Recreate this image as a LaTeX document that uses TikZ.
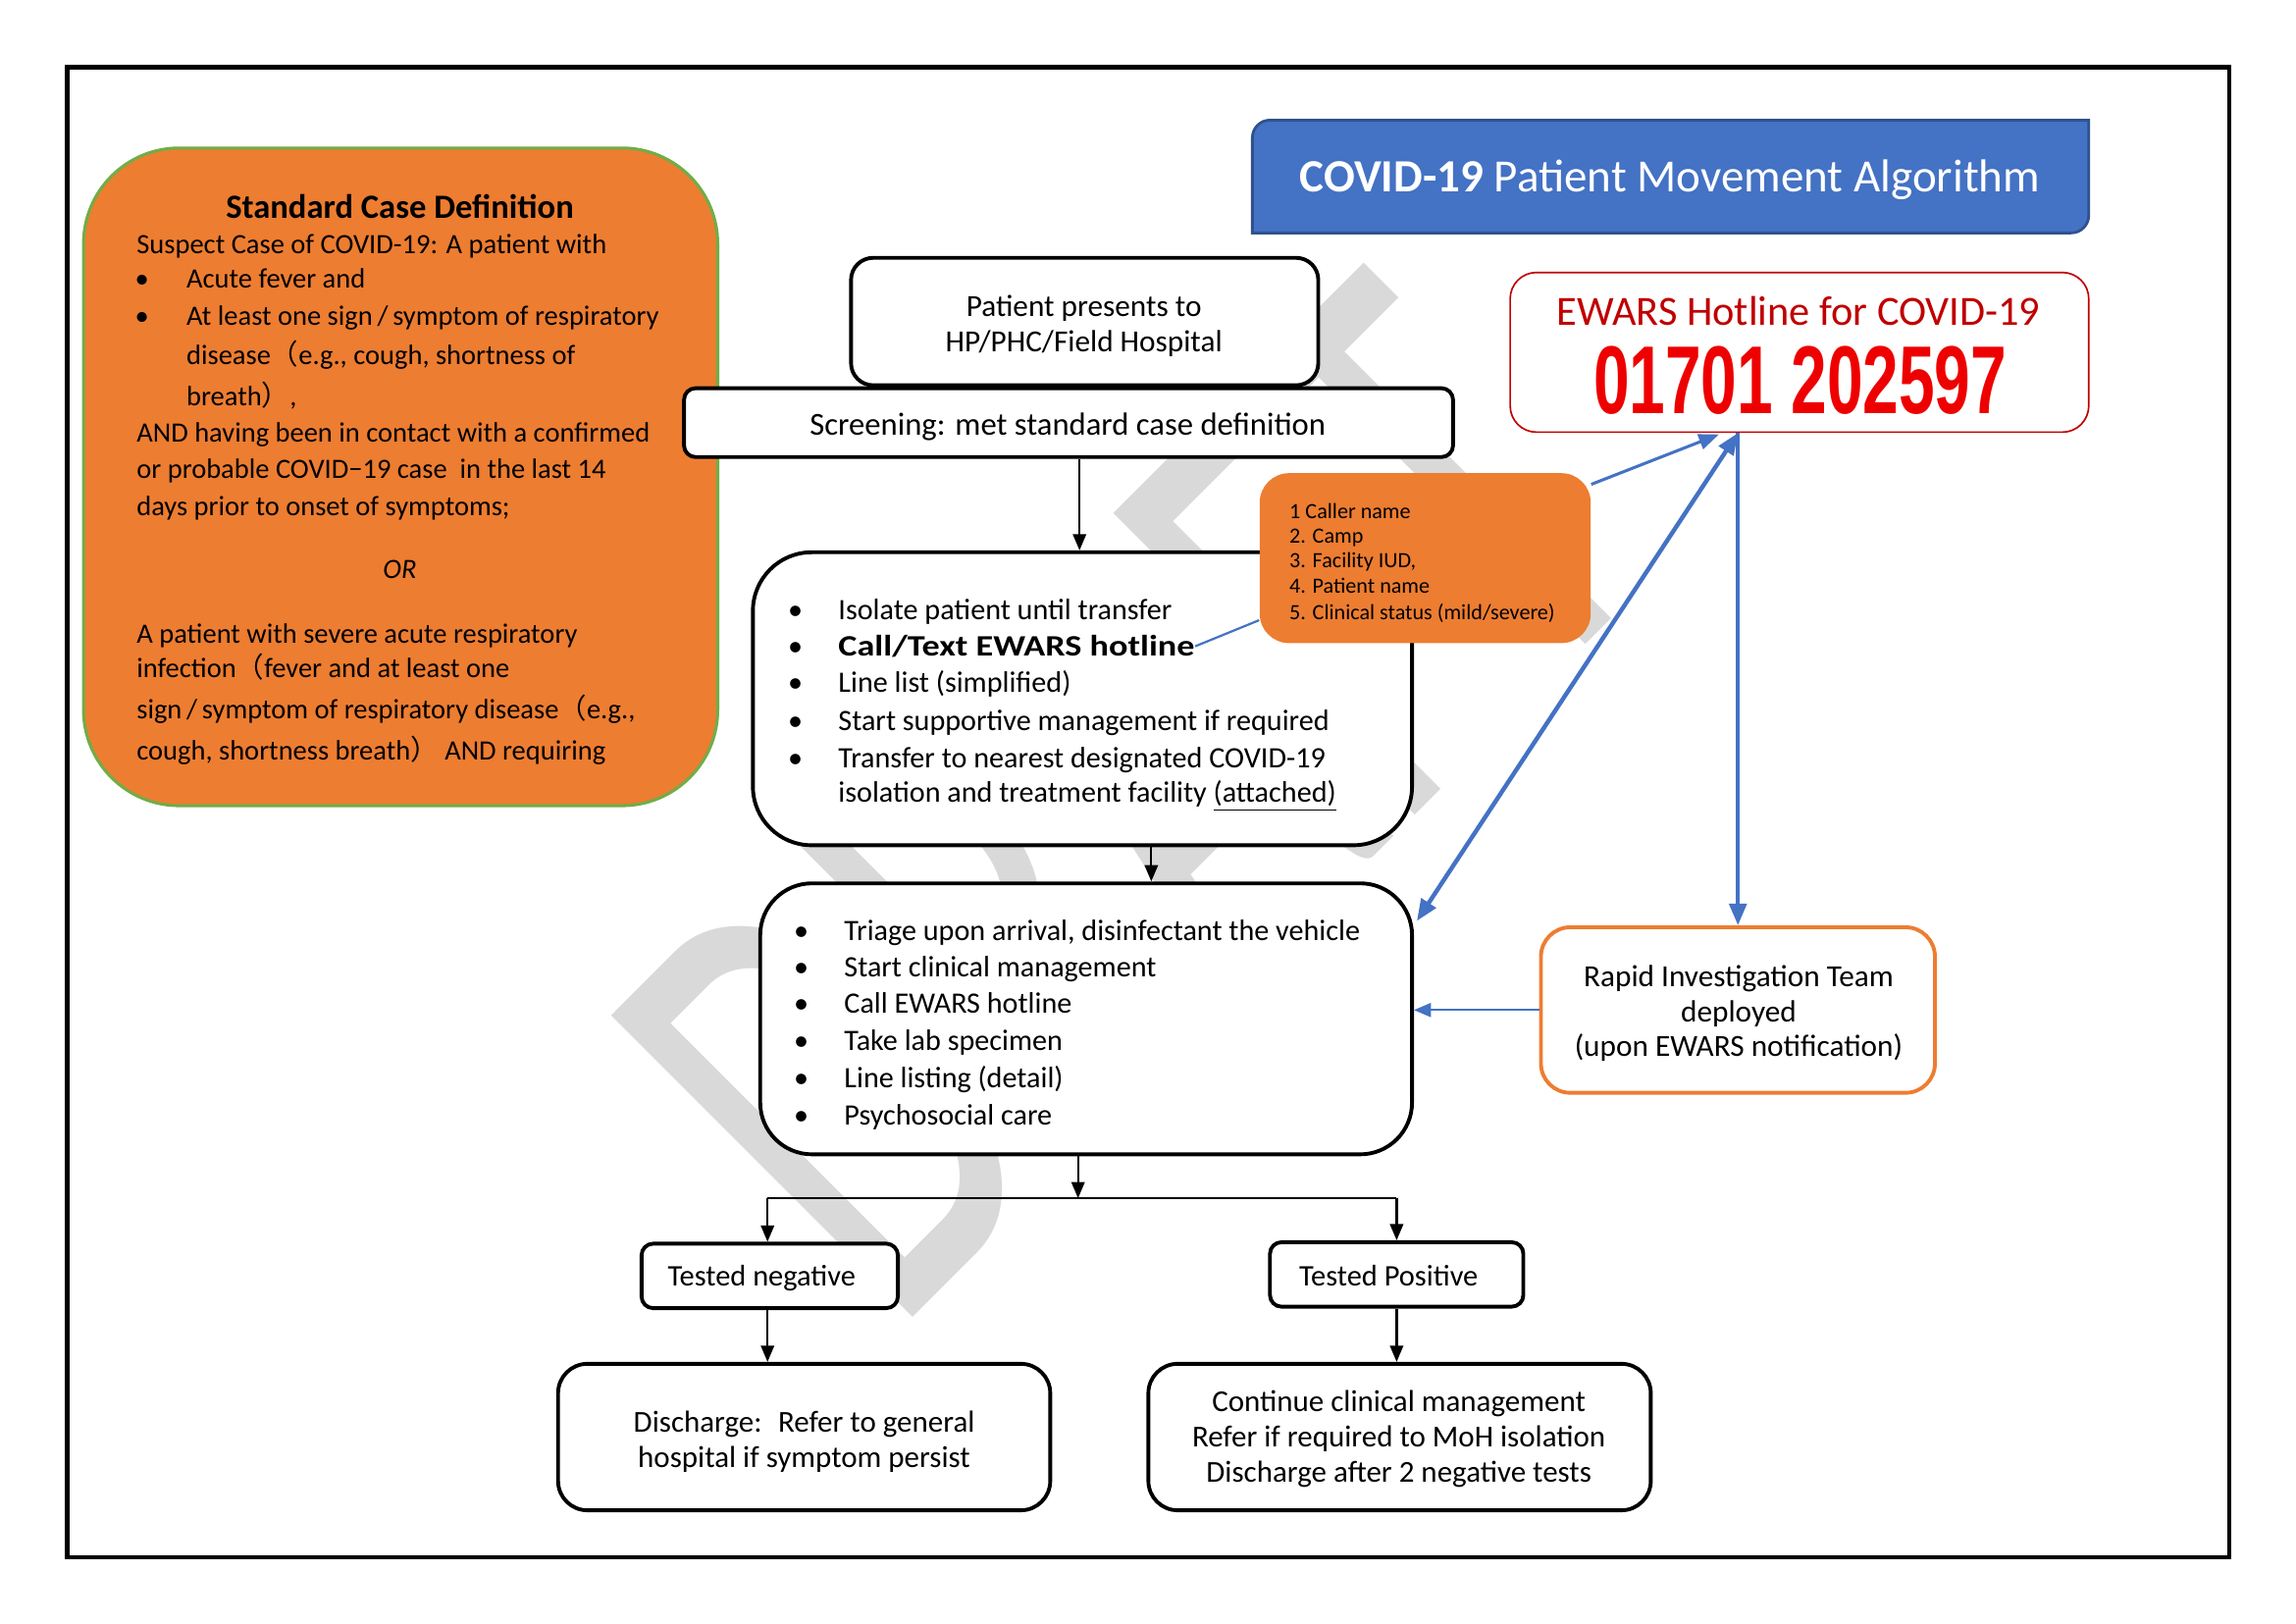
\documentclass[tikz,border=0pt]{standalone}
\usepackage{fontspec}
\setmainfont{Carlito}
\newfontfamily\cjk{Noto Sans CJK SC}
\newfontfamily\numfont{Liberation Sans}
\usepackage{graphicx}
\usetikzlibrary{arrows.meta,fit,calc}
\definecolor{orng}{HTML}{ED7D31}
\definecolor{grn}{HTML}{70AD47}
\definecolor{ewblue}{HTML}{4472C4}
\definecolor{tblue}{HTML}{2F528F}
\definecolor{dred}{HTML}{C00000}
\definecolor{bred}{HTML}{EE0000}
\definecolor{wmgray}{HTML}{D9D9D9}
\newcommand{\fw}[1]{{\cjk #1}}
\begin{document}
\begin{tikzpicture}[x=0.1896mm, y=-0.1896mm,
  fb/.style={draw=black, line width=1.4pt, fill=white, inner sep=0pt},
  tx/.style={inner sep=0pt, yshift=-1.3pt},
  body/.style={tx, font=\fontsize{10.9}{13}\selectfont},
  cbody/.style={tx, font=\fontsize{10.3}{13}\selectfont},
  small/.style={tx, font=\fontsize{8}{9.5}\selectfont},
  cen/.style={tx, anchor=mid, align=center},
  arr/.style={line width=0.8pt, -{Triangle[length=2.1mm,width=1.7mm]}},
  barr/.style={draw=ewblue, line width=1.1pt, -{Triangle[length=2.6mm,width=2mm]}},
  bthick/.style={draw=ewblue, line width=1.6pt},
  bthin/.style={draw=ewblue, line width=0.8pt}
]
\useasboundingbox (0,0) rectangle (1567.5,1108.3);
\fill[white] (0,0) rectangle (1567.5,1108.3);

% watermark
\node[rotate=45, inner sep=0pt, text=wmgray] (wmk) at (772,545)
  {\resizebox{142mm}{55.2mm}{\fontsize{100}{100}\selectfont DRAFT}};

% frame
\node[draw, line width=1.6pt, inner sep=0pt, fit={(46,46) (1522,1063)}] (frame) {};

% standard case definition
\node[fill=orng, draw=grn, line width=1.1pt, rounded corners=12.4mm, inner sep=0pt,
      fit={(57,101) (490,550)}] (case) {};
\node[tx, anchor=mid, font=\fontsize{12.5}{15}\selectfont\bfseries] (sch) at (273,142) {Standard Case Definition};
\node[cbody, anchor=mid west] (c1) at (93,166) {Suspect Case of COVID-19: A patient with};
\node[cbody, anchor=mid] (cb1) at (97,190) {\textbullet};
\node[cbody, anchor=mid west] (c2) at (127,190) {Acute fever and};
\node[cbody, anchor=mid] (cb2) at (97,215) {\textbullet};
\node[cbody, anchor=mid west] (c3) at (127,215) {At least one sign\,/\,symptom of respiratory};
\node[cbody, anchor=mid west] (c4) at (127,242) {disease\fw{（}e.g., cough, shortness of};
\node[cbody, anchor=mid west] (c5) at (127,270) {breath\fw{）},};
\node[cbody, anchor=mid west] (c6) at (93,295) {AND having been in contact with a confirmed};
\node[cbody, anchor=mid west] (c7) at (93,320) {or probable COVID−19 case \ in the last 14};
\node[cbody, anchor=mid west] (c8) at (93,345) {days prior to onset of symptoms;};
\node[cbody, anchor=mid] (cor) at (273,388) {\itshape OR};
\node[cbody, anchor=mid west] (c9) at (93,432) {A patient with severe acute respiratory};
\node[cbody, anchor=mid west] (c10) at (93,456) {infection\fw{（}fever and at least one};
\node[cbody, anchor=mid west] (c11) at (93,484) {sign\,/\,symptom of respiratory disease\fw{（}e.g.,};
\node[cbody, anchor=mid west] (c12) at (93,512) {cough, shortness breath\fw{）} AND requiring};

% title
\fill[ewblue, draw=tblue, line width=1pt] (855,159) -- (855,94) arc[start angle=180, end angle=90, radius=2.275mm]
  -- (1426,82) -- (1426,147) arc[start angle=0, end angle=-90, radius=2.275mm] -- cycle;
\node[inner sep=0pt, anchor=base, text=white, font=\fontsize{17}{20}\selectfont] (ttl) at (1140,131)
  {\textbf{COVID-19} Patient Movement Algorithm};

% EWARS hotline
\node[draw=dred, line width=0.6pt, fill=white, rounded corners=3.4mm, inner sep=0pt,
      fit={(1031,186) (1426,295)}] (ewars) {};
\node[inner sep=0pt, anchor=base, text=dred, font=\fontsize{15.3}{18}\selectfont] (ewt) at (1228,222) {EWARS Hotline for COVID-19};
\node[inner sep=0pt, text=bred] (num) at (1229,260) {\resizebox{53.5mm}{8.72mm}{\numfont\bfseries 01701 202597}};

% patient presents
\node[fb, rounded corners=2.86mm, fit={(581,176) (900,263)}] (patient) {};
\node[cen, font=\fontsize{11.3}{13}\selectfont] (p1) at (740,209) {Patient presents to};
\node[cen, font=\fontsize{11.3}{13}\selectfont] (p2) at (740,233) {HP/PHC/Field Hospital};

% screening
\node[fb, rounded corners=1.5mm, fit={(467,265) (992,312)}] (screen) {};
\node[cen, font=\fontsize{11.8}{14}\selectfont] (s1) at (729,290) {Screening: met standard case definition};

% isolate box
\node[fb, rounded corners=7.6mm, fit={(514,377) (964,577)}] (iso) {};
\foreach \n/\yy/\lbl in {1/416/{Isolate patient until transfer},
                         3/466/{Line list (simplified)},
                         4/492/{Start supportive management if required},
                         5/517/{Transfer to nearest designated COVID-19}} {
  \node[body, anchor=mid] (ib\n) at (543,\yy) {\textbullet};
  \node[body, anchor=mid west] (it\n) at (572,\yy) {\lbl};
}
\node[body, anchor=mid] (ib2) at (543,441) {\textbullet};
\node[body, anchor=mid west] (hot) at (572,441) {\scalebox{1.2}[1]{\bfseries Call/Text EWARS hotline}};
\node[body, anchor=mid west] (it6) at (572,541) {isolation and treatment facility \underline{(attached)}};

% orange info box
\node[fill=orng, rounded corners=3.8mm, inner sep=0pt, fit={(860,323) (1086,439)}] (obox) {};
\foreach \n/\yy/\lbl in {1/347/{1 Caller name}, 2/364/{2. Camp}, 3/381/{3. Facility IUD,},
                         4/398/{4. Patient name}, 5/416/{5. Clinical status (mild/severe)}} {
  \node[small, anchor=mid west] (o\n) at (880,\yy) {\lbl};
}

% triage box
\node[fb, rounded corners=6.7mm, fit={(519,603) (964,788)}] (triage) {};
\foreach \n/\yy/\lbl in {1/635/{Triage upon arrival, disinfectant the vehicle},
                         2/660/{Start clinical management},
                         3/685/{Call EWARS hotline},
                         4/710/{Take lab specimen},
                         5/736/{Line listing (detail)},
                         6/761/{Psychosocial care}} {
  \node[body, anchor=mid] (tb\n) at (547,\yy) {\textbullet};
  \node[body, anchor=mid west] (tt\n) at (576,\yy) {\lbl};
}

% rapid investigation team
\node[draw=orng, line width=1.4pt, fill=white, rounded corners=3.8mm, inner sep=0pt,
      fit={(1052,633) (1321,746)}] (rapid) {};
\node[cen, font=\fontsize{11.3}{13}\selectfont] (r1) at (1187,667) {Rapid Investigation Team};
\node[cen, font=\fontsize{11.3}{13}\selectfont] (r2) at (1187,691) {deployed};
\node[cen, font=\fontsize{11.3}{13}\selectfont] (r3) at (1187,714) {(upon EWARS notification)};

% test result boxes
\node[fb, rounded corners=1.5mm, fit={(438,849) (613,893)}] (neg) {};
\node[cen, font=\fontsize{11}{13}\selectfont] (negt) at (520,871) {Tested negative};
\node[fb, rounded corners=1.5mm, fit={(867,848) (1040,892)}] (pos) {};
\node[cen, font=\fontsize{11}{13}\selectfont] (post) at (948,871) {Tested Positive};

\node[fb, rounded corners=3.8mm, fit={(381,931) (717,1031)}] (dis) {};
\node[cen, font=\fontsize{11.2}{13}\selectfont] (d1) at (549,971) {Discharge: \ Refer to general};
\node[cen, font=\fontsize{11.2}{13}\selectfont] (d2) at (549,995) {hospital if symptom persist};

\node[fb, rounded corners=3.8mm, fit={(784,931) (1127,1031)}] (cont) {};
\node[cen, font=\fontsize{11.2}{13}\selectfont] (k1) at (955,957) {Continue clinical management};
\node[cen, font=\fontsize{11.2}{13}\selectfont] (k2) at (955,981) {Refer if required to MoH isolation};
\node[cen, font=\fontsize{11.2}{13}\selectfont] (k3) at (955,1005) {Discharge after 2 negative tests};

% black connectors
\coordinate (a1) at (737,0);
\coordinate (a2) at (786,0);
\coordinate (j) at (736,818);
\coordinate (jn) at (524,0);
\draw[arr] (a1 |- screen.south) -- (a1 |- iso.north);
\draw[arr] (a2 |- iso.south) -- (a2 |- triage.north);
\draw[arr] (j |- triage.south) -- (j);
\draw[line width=0.6pt] (jn |- j) -- (pos.north |- j);
\draw[arr] (jn |- j) -- (jn |- neg.north);
\draw[arr] (pos.north |- j) -- (pos.north);
\draw[arr] (jn |- neg.south) -- (jn |- dis.north);
\draw[arr] (pos.south) -- (pos.south |- cont.north);

% blue connectors
\coordinate (eb) at (rapid.north |- ewars.south);
\draw[bthin] (hot.east) -- ($(obox.south west)+(0,-16)$);
\draw[barr] ($(obox.north east)+(0,8)$) -- ($(eb)+(-13,1)$);
\draw[bthick, {Triangle[length=2.8mm,width=2.2mm]}-{Triangle[length=2.8mm,width=2.2mm]}]
  (eb) -- ($(triage.north east)+(2,27)$);
\draw[bthick, -{Triangle[length=2.8mm,width=2.2mm]}] (eb) -- (rapid.north);
\draw[bthin, -{Triangle[length=2.2mm,width=1.8mm]}] (rapid.west) -- (rapid.west -| triage.east);
\end{tikzpicture}
\end{document}
